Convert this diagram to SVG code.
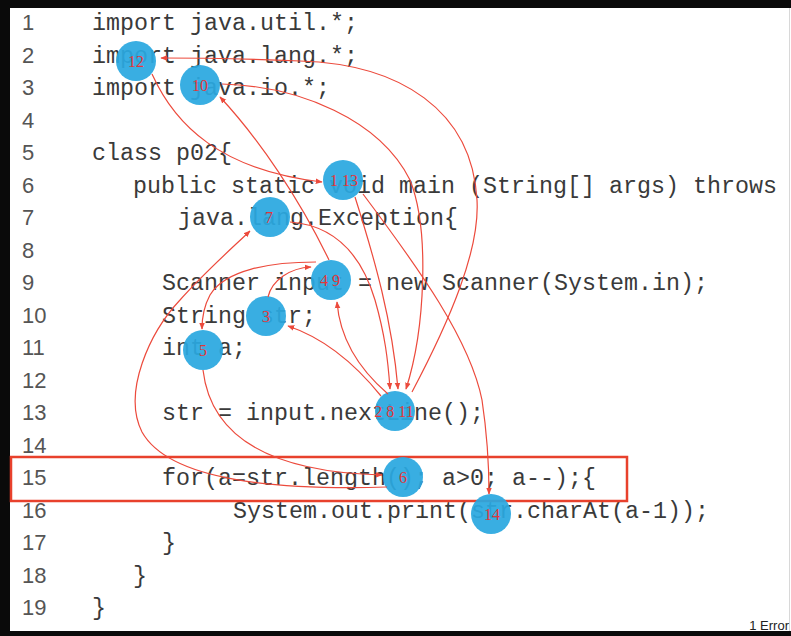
<svg xmlns="http://www.w3.org/2000/svg" width="791" height="636" viewBox="0 0 791 636">
<defs>
<style>
.code{font-family:"Liberation Mono","Courier New",monospace;font-size:23.33px;fill:#3a3a3a;white-space:pre}
.ln{font-family:"Liberation Sans",Arial,sans-serif;font-size:22px;fill:#555}
.c{fill:#2aa8e0;fill-opacity:0.93}
.lbl{font-family:"Liberation Serif","Times New Roman",serif;font-size:16px;fill:#e2363a;text-anchor:middle}
.e{fill:none;stroke:#ec4a3c;stroke-width:1.2}
.ea{fill:none;stroke:#ec4a3c;stroke-width:1.2;marker-end:url(#ah)}
</style>
<marker id="ah" viewBox="0 0 10 10" refX="9" refY="5" markerWidth="7" markerHeight="7" markerUnits="userSpaceOnUse" orient="auto">
<path d="M0,1 L10,5 L0,9 z" fill="#ec4a3c"/>
</marker>
</defs>
<rect x="0" y="0" width="791" height="636" fill="#ffffff"/>
<g id="frame">
<rect x="0" y="0" width="791" height="8" fill="#0a0a0a"/>
<rect x="0" y="0" width="10" height="636" fill="#0a0a0a"/>
<rect x="0" y="631" width="791" height="5" fill="#0a0a0a"/>
<line x1="789.5" y1="8" x2="789.5" y2="631" stroke="#d8d8d8" stroke-width="1"/>
</g>
<g id="line-numbers">
<text class="ln" x="22" y="30">1</text>
<text class="ln" x="22" y="62.5">2</text>
<text class="ln" x="22" y="95">3</text>
<text class="ln" x="22" y="127.5">4</text>
<text class="ln" x="22" y="160">5</text>
<text class="ln" x="22" y="192.5">6</text>
<text class="ln" x="22" y="225">7</text>
<text class="ln" x="22" y="257.5">8</text>
<text class="ln" x="22" y="290">9</text>
<text class="ln" x="22" y="322.5">10</text>
<text class="ln" x="22" y="355">11</text>
<text class="ln" x="22" y="387.5">12</text>
<text class="ln" x="22" y="420">13</text>
<text class="ln" x="22" y="452.5">14</text>
<text class="ln" x="22" y="485">15</text>
<text class="ln" x="22" y="517.5">16</text>
<text class="ln" x="22" y="550">17</text>
<text class="ln" x="22" y="582.5">18</text>
<text class="ln" x="22" y="615">19</text>
</g>
<g id="code">
<text class="code" x="92" y="30">import java.util.*;</text>
<text class="code" x="92" y="62.5">import java.lang.*;</text>
<text class="code" x="92" y="95">import java.io.*;</text>
<text class="code" x="92" y="160">class p02{</text>
<text class="code" x="133" y="192.5">public static void main (String[] args) throws</text>
<text class="code" x="178" y="225">java.lang.Exception{</text>
<text class="code" x="162" y="290">Scanner input = new Scanner(System.in);</text>
<text class="code" x="162" y="322.5">String str;</text>
<text class="code" x="162" y="355">int a;</text>
<text class="code" x="162" y="420">str = input.nextLine();</text>
<text class="code" x="162" y="485">for(a=str.length(); a&gt;0; a--);{</text>
<text class="code" x="233" y="517.5">System.out.print(str.charAt(a-1));</text>
<text class="code" x="162" y="550">}</text>
<text class="code" x="133" y="582.5">}</text>
<text class="code" x="92" y="615">}</text>
</g>
<rect id="highlight" x="11" y="457" width="616" height="44" fill="none" stroke="#e8412c" stroke-width="2.5"/>
<text x="789" y="630" font-family="'Liberation Sans',Arial,sans-serif" font-size="13" fill="#222" text-anchor="end">1 Error</text>
<g id="nodes">
<g id="n12"><circle class="c" cx="136" cy="61" r="20"/><text class="lbl" x="136" y="67">12</text></g>
<g id="n10"><circle class="c" cx="200" cy="85" r="20"/><text class="lbl" x="200" y="91">10</text></g>
<g id="n1_13"><circle class="c" cx="343" cy="180" r="20"/><text class="lbl" x="344" y="186">1 13</text></g>
<g id="n7"><circle class="c" cx="270" cy="217" r="20"/><text class="lbl" x="269" y="223">7</text></g>
<g id="n4_9"><circle class="c" cx="331" cy="280" r="20"/><text class="lbl" x="330" y="286">4 9</text></g>
<g id="n3"><circle class="c" cx="266" cy="316" r="20"/><text class="lbl" x="266" y="322">3</text></g>
<g id="n5"><circle class="c" cx="203" cy="350" r="20"/><text class="lbl" x="203" y="356">5</text></g>
<g id="n2_8_11"><circle class="c" cx="395" cy="411" r="20"/><text class="lbl" x="394" y="417">2 8 11</text></g>
<g id="n6"><circle class="c" cx="403" cy="477" r="20"/><text class="lbl" x="403" y="483">6</text></g>
<g id="n14"><circle class="c" cx="491" cy="514" r="20"/><text class="lbl" x="492" y="520">14</text></g>
</g>
<g id="connectors">
<path class="ea" d="M355,197 C375,260 392,320 398,389"/>
<path class="ea" d="M381,396 C360,370 330,340 288,326"/>
<path class="ea" d="M268,297 C272,280 290,268 311,267"/>
<path class="ea" d="M316,262 C270,262 225,270 210,295 C203,308 202,318 202,329"/>
<path class="ea" d="M203,370 C210,430 260,472 382,475"/>
<path class="ea" d="M387,487 C280,490 170,482 142,432 C122,392 150,332 180,300 C205,272 230,250 250,231"/>
<path class="ea" d="M290,222 C330,225 360,250 375,300 C385,335 388,360 390,389"/>
<path class="ea" d="M388,394 C360,370 340,340 337,302"/>
<path class="ea" d="M329,260 C300,200 260,140 220,97"/>
<path class="ea" d="M222,84 C300,86 380,120 410,180 C430,230 425,330 406,389"/>
<path class="ea" d="M412,392 C450,320 480,250 477,200 C472,110 400,64 300,61 C250,59 200,58 161,58"/>
<path class="ea" d="M152,74 C175,125 220,170 322,182"/>
<path class="ea" d="M363,194 C420,270 470,340 482,400 C488,440 489,470 489,494"/>
</g>
</svg>
